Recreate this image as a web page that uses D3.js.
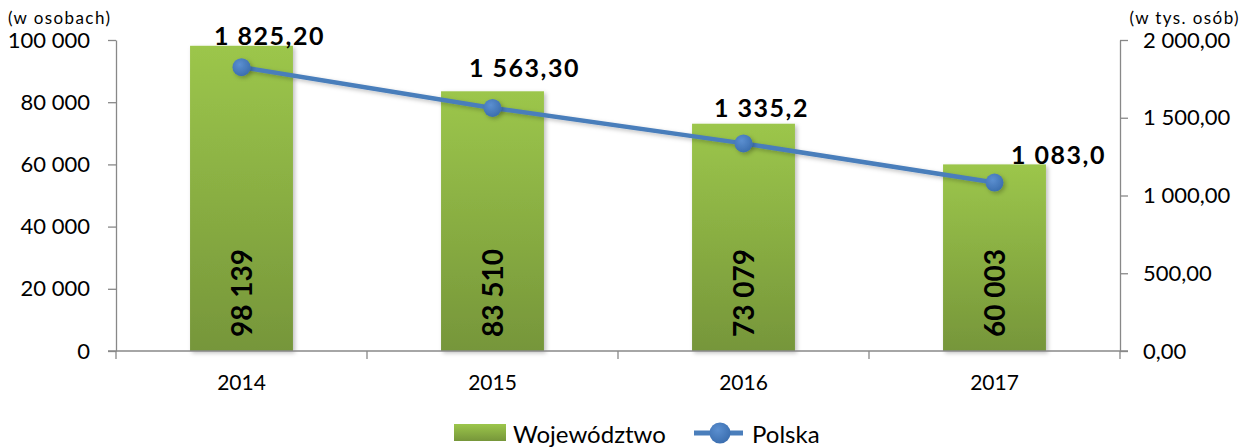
<!DOCTYPE html>
<html>
<head>
<meta charset="UTF-8">
<script src="https://d3js.org/d3.v7.min.js"></script>
<style>
  body { margin: 0; background: #fff; font-family: Lato, 'Open Sans', sans-serif; }
  svg { display: block; }
  .axis path, .axis line { stroke: #888; stroke-width: 1.3px; }
  .axis text { fill: #000; font-family: Lato, sans-serif; }
</style>
</head>
<body>
<svg id="chart" width="1250" height="448"></svg>
<script>
// data
const years = ["2014", "2015", "2016", "2017"];
const wojewodztwo = [98139, 83510, 73079, 60003];
const polska = [1825.20, 1563.30, 1335.2, 1083.0];
const polskaLabels = ["1 825,20", "1 563,30", "1 335,2", "1 083,0"];
const leftTicks = [0, 20000, 40000, 60000, 80000, 100000];
const rightTicks = [0, 500, 1000, 1500, 2000];

const width = 1250, height = 448;
const plot = { left: 116, right: 1120, top: 40, bottom: 351 };

const svg = d3.select("#chart");

const x = d3.scaleBand().domain(years).range([plot.left, plot.right]).paddingInner(0.59).paddingOuter(0.295);
const yL = d3.scaleLinear().domain([0, 100000]).range([plot.bottom, plot.top]);
const yR = d3.scaleLinear().domain([0, 2000]).range([plot.bottom, plot.top]);

const fmtSpace = d3.formatLocale({ decimal: ",", thousands: " ", grouping: [3], currency: ["", ""] });
const fmtL = fmtSpace.format(",d");
const fmtR = fmtSpace.format(",.2f");

const defs = svg.append("defs");
const grad = defs.append("linearGradient").attr("id", "barGrad").attr("x1", 0).attr("y1", 0).attr("x2", 0).attr("y2", 1);
grad.append("stop").attr("offset", "0%").attr("stop-color", "#9cc64b");
grad.append("stop").attr("offset", "100%").attr("stop-color", "#76963a");
const mgrad = defs.append("radialGradient").attr("id", "dotGrad").attr("cx", "40%").attr("cy", "35%").attr("r", "65%");
mgrad.append("stop").attr("offset", "0%").attr("stop-color", "#5b8fd0");
mgrad.append("stop").attr("offset", "100%").attr("stop-color", "#3c6fb0");
const shadow = defs.append("filter").attr("id", "shadow").attr("x", "-20%").attr("y", "-20%").attr("width", "150%").attr("height", "150%");
shadow.append("feDropShadow").attr("dx", 2).attr("dy", 2).attr("stdDeviation", 2).attr("flood-color", "#000").attr("flood-opacity", 0.25);

// bars
svg.append("g").selectAll("rect")
  .data(wojewodztwo)
  .join("rect")
  .attr("x", (d, i) => x(years[i]))
  .attr("width", x.bandwidth())
  .attr("y", d => yL(d))
  .attr("height", d => yL(0) - yL(d))
  .attr("fill", "url(#barGrad)")
  .attr("filter", "url(#shadow)");

// bar labels (rotated)
svg.append("g").selectAll("text")
  .data(wojewodztwo)
  .join("text")
  .attr("transform", (d, i) => `translate(${x(years[i]) + x.bandwidth() / 2 + 10},${yL(0) - 58}) rotate(-90)`)
  .attr("text-anchor", "middle")
  .style("font-family", "Lato, sans-serif")
  .style("font-weight", "bold")
  .style("font-size", "28px")
  .text(d => fmtL(d));

// axes
const axL = svg.append("g").attr("class", "axis").attr("transform", `translate(${plot.left},0)`)
  .call(d3.axisLeft(yL).tickValues(leftTicks).tickFormat(fmtL).tickSizeInner(8).tickSizeOuter(0).tickPadding(18));
axL.selectAll("text").style("font-size", "22px");

const axR = svg.append("g").attr("class", "axis").attr("transform", `translate(${plot.right},0)`)
  .call(d3.axisRight(yR).tickValues(rightTicks).tickFormat(fmtR).tickSizeInner(8).tickSizeOuter(0).tickPadding(15));
axR.selectAll("text").style("font-size", "22px");

const axX = svg.append("g").attr("class", "axis").attr("transform", `translate(0,${plot.bottom})`)
  .call(d3.axisBottom(x).tickSize(0).tickPadding(24));
axX.select(".domain").attr("d", `M${plot.left - 8},0H${plot.right + 8}`);
axX.selectAll("text").style("font-size", "21px");
// category boundary ticks
const bounds = years.map(y => x(y) - x.step() * x.paddingInner() / 2).concat([plot.right]);
axX.selectAll(".bound").data(bounds).join("line").attr("class", "bound")
  .attr("x1", d => d).attr("x2", d => d).attr("y1", 0).attr("y2", 8);

// axis titles
svg.append("text").attr("x", 8).attr("y", 24).style("font-size", "17px").style("letter-spacing", "1.4px").text("(w osobach)");
svg.append("text").attr("x", 1240).attr("y", 24).attr("text-anchor", "end").style("font-size", "17px").style("letter-spacing", "1.4px").text("(w tys. osób)");

// line
const cx = (d, i) => x(years[i]) + x.bandwidth() / 2;
const line = d3.line().x((d, i) => cx(d, i)).y(d => yR(d));
svg.append("path").datum(polska)
  .attr("d", line)
  .attr("fill", "none")
  .attr("stroke", "#4a7ebb")
  .attr("stroke-width", 4.5)
  .attr("filter", "url(#shadow)");
svg.append("g").selectAll("circle")
  .data(polska)
  .join("circle")
  .attr("cx", cx)
  .attr("cy", d => yR(d))
  .attr("r", 9)
  .attr("fill", "url(#dotGrad)")
  .attr("filter", "url(#shadow)");

// line labels
const labelDx = [28, 32, 18, 64];
const labelDy = [-22, -31, -26, -19];
svg.append("g").selectAll("text")
  .data(polska)
  .join("text")
  .attr("x", (d, i) => cx(d, i) + labelDx[i])
  .attr("y", (d, i) => yR(d) + labelDy[i])
  .attr("text-anchor", "middle")
  .style("font-weight", "bold")
  .style("font-size", "25px")
  .style("letter-spacing", "1.5px")
  .text((d, i) => polskaLabels[i]);

// legend
const lg = svg.append("g");
lg.append("rect").attr("x", 454).attr("y", 424).attr("width", 52).attr("height", 17).attr("fill", "url(#barGrad)");
lg.append("text").attr("x", 513).attr("y", 443).style("font-size", "24px").text("Województwo");
lg.append("line").attr("x1", 694).attr("x2", 743).attr("y1", 433).attr("y2", 433).attr("stroke", "#4a7ebb").attr("stroke-width", 5);
lg.append("circle").attr("cx", 720).attr("cy", 433).attr("r", 10.5).attr("fill", "url(#dotGrad)");
lg.append("text").attr("x", 752).attr("y", 443).style("font-size", "24px").text("Polska");
</script>
</body>
</html>
